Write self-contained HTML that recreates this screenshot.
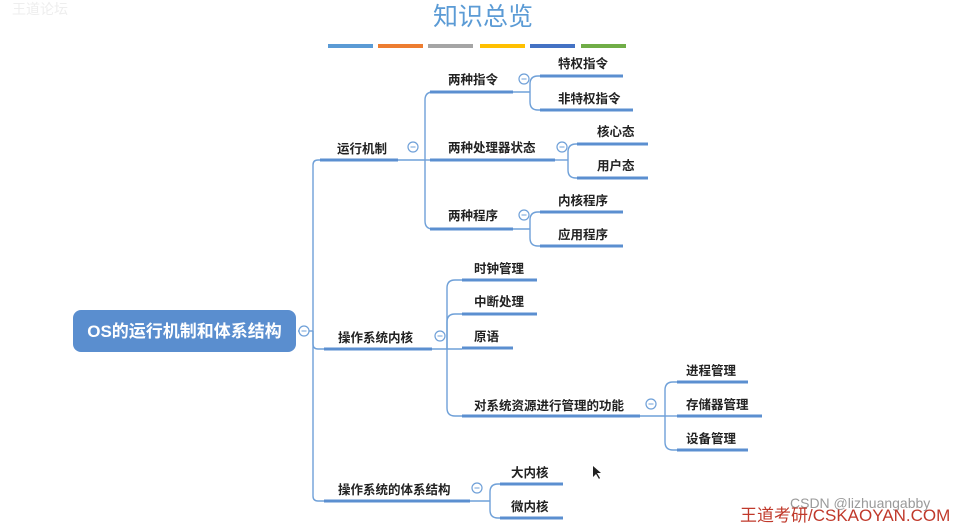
<!DOCTYPE html>
<html><head><meta charset="utf-8"><style>
html,body{margin:0;padding:0;background:#fff;}
svg{display:block;}
text{font-family:"Liberation Sans","Noto Sans CJK SC",sans-serif;}
.t{font-size:12.5px;fill:#222;font-weight:bold;}
.u{stroke:#5b8fd0;stroke-width:3;}
.c{fill:none;stroke:#6fa0d8;stroke-width:1.4;}
.m{fill:#fff;stroke:#6fa0d8;stroke-width:1.2;}
</style></head><body>
<svg width="969" height="524" viewBox="0 0 969 524" xmlns="http://www.w3.org/2000/svg">
<rect width="969" height="524" fill="#fff"/>
<text x="483" y="25" text-anchor="middle" font-size="25" fill="#5b9bd5" style="font-family:'Liberation Sans','Noto Sans CJK SC',sans-serif">知识总览</text>
<g stroke-width="4">
<line x1="328" y1="46" x2="373" y2="46" stroke="#5b9bd5"/>
<line x1="378" y1="46" x2="423" y2="46" stroke="#ed7d31"/>
<line x1="428" y1="46" x2="473" y2="46" stroke="#a5a5a5"/>
<line x1="480" y1="46" x2="525" y2="46" stroke="#ffc000"/>
<line x1="530" y1="46" x2="575" y2="46" stroke="#4472c4"/>
<line x1="581" y1="46" x2="626" y2="46" stroke="#70ad47"/>
</g>

<!-- connectors -->
<g class="c">
<!-- root trunk -->
<path d="M298 331 H313"/>
<path d="M313 331 V165 Q313 160 318 160 H322"/>
<path d="M313 331 V344 Q313 349 318 349 H324"/>
<path d="M313 331 V496 Q313 501 318 501 H324"/>
<!-- 运行机制 -->
<path d="M398 160 H425"/>
<path d="M425 160 V100 Q425 92 433 92"/>
<path d="M425 160 H430"/>
<path d="M425 160 V221 Q425 229 433 229"/>
<!-- 两种指令 -->
<path d="M513 92 H530"/>
<path d="M530 92 V84 Q530 76 538 76 H540"/>
<path d="M530 92 V102 Q530 110 538 110 H540"/>
<!-- 两种处理器状态 -->
<path d="M555 160 H568"/>
<path d="M568 160 V152 Q568 144 576 144 H577"/>
<path d="M568 160 V170 Q568 178 576 178 H577"/>
<!-- 两种程序 -->
<path d="M513 229 H530"/>
<path d="M530 229 V220 Q530 212 538 212 H540"/>
<path d="M530 229 V238 Q530 246 538 246 H540"/>
<!-- 内核 -->
<path d="M432 349 H462"/>
<path d="M447 349 V288 Q447 280 455 280 H462"/>
<path d="M447 349 V322 Q447 314 455 314 H462"/>
<path d="M447 349 V408 Q447 416 455 416 H462"/>
<!-- 资源管理 -->
<path d="M640 416 H665"/>
<path d="M665 416 V390 Q665 382 673 382 H677"/>
<path d="M665 416 H677"/>
<path d="M665 416 V442 Q665 450 673 450 H677"/>
<!-- 体系结构 -->
<path d="M470 501 H490"/>
<path d="M490 501 V492 Q490 484 498 484 H500"/>
<path d="M490 501 V510 Q490 518 498 518 H500"/>
</g>

<!-- underlines -->
<g class="u">
<line x1="320" y1="160" x2="398" y2="160"/>
<line x1="324" y1="349" x2="432" y2="349"/>
<line x1="324" y1="501" x2="470" y2="501"/>
<line x1="430" y1="92" x2="513" y2="92"/>
<line x1="430" y1="160" x2="555" y2="160"/>
<line x1="430" y1="229" x2="513" y2="229"/>
<line x1="540" y1="76" x2="623" y2="76"/>
<line x1="540" y1="110" x2="633" y2="110"/>
<line x1="577" y1="144" x2="648" y2="144"/>
<line x1="577" y1="178" x2="648" y2="178"/>
<line x1="540" y1="212" x2="623" y2="212"/>
<line x1="540" y1="246" x2="623" y2="246"/>
<line x1="462" y1="280" x2="537" y2="280"/>
<line x1="462" y1="314" x2="537" y2="314"/>
<line x1="462" y1="348" x2="513" y2="348"/>
<line x1="462" y1="416" x2="640" y2="416"/>
<line x1="677" y1="382" x2="748" y2="382"/>
<line x1="677" y1="416" x2="762" y2="416"/>
<line x1="677" y1="450" x2="748" y2="450"/>
<line x1="500" y1="484" x2="563" y2="484"/>
<line x1="500" y1="518" x2="563" y2="518"/>
</g>

<!-- root -->
<rect x="73" y="310" width="223" height="42" rx="8" fill="#5a8ecf"/>
<text x="184.5" y="337" text-anchor="middle" font-size="17" font-weight="bold" fill="#fff">OS的运行机制和体系结构</text>

<!-- collapse markers -->
<g>
<circle class="m" cx="304" cy="331" r="5"/><line x1="301.5" y1="331" x2="306.5" y2="331" stroke="#6fa0d8"/>
<circle class="m" cx="413" cy="147" r="5"/><line x1="410.5" y1="147" x2="415.5" y2="147" stroke="#6fa0d8"/>
<circle class="m" cx="440" cy="336" r="5"/><line x1="437.5" y1="336" x2="442.5" y2="336" stroke="#6fa0d8"/>
<circle class="m" cx="477" cy="488" r="5"/><line x1="474.5" y1="488" x2="479.5" y2="488" stroke="#6fa0d8"/>
<circle class="m" cx="524" cy="79" r="5"/><line x1="521.5" y1="79" x2="526.5" y2="79" stroke="#6fa0d8"/>
<circle class="m" cx="562" cy="147" r="5"/><line x1="559.5" y1="147" x2="564.5" y2="147" stroke="#6fa0d8"/>
<circle class="m" cx="524" cy="215" r="5"/><line x1="521.5" y1="215" x2="526.5" y2="215" stroke="#6fa0d8"/>
<circle class="m" cx="651" cy="404" r="5"/><line x1="648.5" y1="404" x2="653.5" y2="404" stroke="#6fa0d8"/>
</g>

<!-- labels -->
<g class="t">
<text x="337" y="153">运行机制</text>
<text x="338" y="342">操作系统内核</text>
<text x="338" y="494">操作系统的体系结构</text>
<text x="448" y="84">两种指令</text>
<text x="448" y="152">两种处理器状态</text>
<text x="448" y="220">两种程序</text>
<text x="558" y="68">特权指令</text>
<text x="558" y="103">非特权指令</text>
<text x="597" y="136">核心态</text>
<text x="597" y="170">用户态</text>
<text x="558" y="205">内核程序</text>
<text x="558" y="239">应用程序</text>
<text x="474" y="273">时钟管理</text>
<text x="474" y="306">中断处理</text>
<text x="474" y="341">原语</text>
<text x="474" y="410">对系统资源进行管理的功能</text>
<text x="686" y="375">进程管理</text>
<text x="686" y="409">存储器管理</text>
<text x="686" y="443">设备管理</text>
<text x="511" y="477">大内核</text>
<text x="511" y="511">微内核</text>
</g>

<!-- cursor -->
<path d="M593 466 L593 477 L596 474 L599 479 L600 478 L597 473 L601 473 Z" fill="#222"/>

<!-- watermarks -->
<text x="790" y="508" font-size="14" fill="#9a9a9a">CSDN @lizhuangabby</text>
<text x="740" y="521" font-size="17" fill="#c0392b">王道考研/CSKAOYAN.COM</text>
<text x="12" y="14" font-size="14" fill="#eeeeee">王道论坛</text>
</svg>
</body></html>
